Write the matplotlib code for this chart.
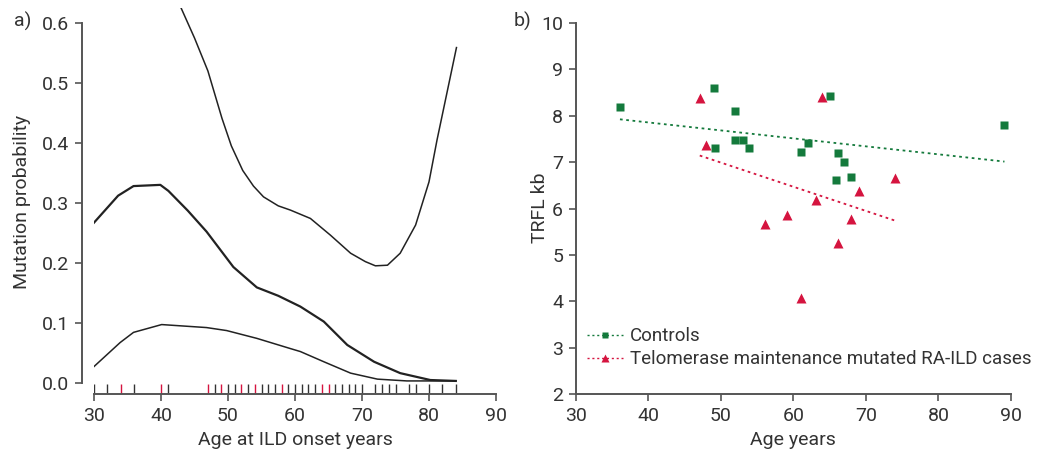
import numpy as np
import matplotlib
matplotlib.use("Agg")
import matplotlib.pyplot as plt

plt.rcParams['font.family'] = ['Roboto', 'DejaVu Sans']
plt.rcParams['font.size'] = 14
plt.rcParams['text.color'] = '#333333'
plt.rcParams['axes.labelcolor'] = '#333333'
plt.rcParams['xtick.color'] = '#555555'
plt.rcParams['ytick.color'] = '#555555'
plt.rcParams['xtick.labelcolor'] = '#333333'
plt.rcParams['ytick.labelcolor'] = '#333333'

green = '#147a3c'
red = '#d5143f'
dark = '#222222'

# panel a) curves (mutation probability vs age at onset)
mid_age = [30, 33.6, 35.9, 39.9, 41.1, 44, 46.8, 50.8, 54.3, 57.5, 60.8, 64.3, 67.8, 71.8, 75.7, 80.2, 84]
mid_prob = [0.267, 0.312, 0.328, 0.330, 0.320, 0.287, 0.252, 0.193, 0.159, 0.145, 0.127, 0.102, 0.063, 0.035, 0.016, 0.0045, 0.003]

low_age = [30, 33.9, 35.9, 40.1, 46.8, 49.8, 54.3, 59.3, 60.8, 64.3, 68.3, 72.3, 76.7, 84]
low_prob = [0.027, 0.067, 0.084, 0.097, 0.092, 0.087, 0.074, 0.057, 0.052, 0.035, 0.016, 0.006, 0.003, 0.003]

up_age = [43.0, 45, 47.0, 49.1, 50.5, 52.2, 53.8, 55.3, 57.5, 59.3, 62.3, 65.3, 68.3, 70.5, 72.0, 73.8, 75.7, 78.0, 80.0, 81.2, 84.1]
up_prob = [0.625, 0.575, 0.52, 0.441, 0.395, 0.354, 0.328, 0.310, 0.295, 0.288, 0.274, 0.246, 0.216, 0.202, 0.195, 0.196, 0.216, 0.263, 0.335, 0.405, 0.559]

# rug of observed onset ages
rug_black = [30, 32, 36, 41, 48, 50, 51, 53, 55, 56, 57, 59, 60, 61, 62, 63, 66, 67, 68, 69, 70,
             72, 73, 74, 75, 77, 78, 80, 82, 84]
rug_red = [34, 40, 47, 49, 52, 54, 58, 64, 65]

# panel b) TRFL vs age
ctrl_age = [36.1, 49.1, 52.0, 65.05, 89.1, 52.0, 53.1, 49.2, 53.9, 62.0, 61.0, 66.1, 67.0, 68.0, 65.9]
ctrl_trfl = [8.19, 8.59, 8.10, 8.42, 7.79, 7.48, 7.48, 7.30, 7.30, 7.40, 7.22, 7.19, 7.00, 6.68, 6.61]

case_age = [47.1, 63.9, 48.0, 74.0, 69.0, 63.1, 59.1, 56.05, 68.0, 66.1, 61.0]
case_trfl = [8.37, 8.39, 7.36, 6.66, 6.38, 6.18, 5.86, 5.67, 5.78, 5.26, 4.08]

ctrl_fit_age = [36.1, 89.1]
ctrl_fit_trfl = [7.92, 7.01]
case_fit_age = [47.1, 74.0]
case_fit_trfl = [7.14, 5.74]

W, H = 1038, 455
fig = plt.figure(figsize=(W / 100, H / 100), dpi=100)

def fx(px):
    return px / W

def fy(py):
    return 1 - py / H

# ---- panel a
ax1 = fig.add_axes([fx(94), fy(394.3), fx(496) - fx(94), fy(8) - fy(394.3)])
ybot = -0.0193
ax1.plot(up_age, up_prob, color=dark, lw=1.1)
ax1.plot(mid_age, mid_prob, color=dark, lw=1.6)
ax1.plot(low_age, low_prob, color=dark, lw=1.1)
ax1.vlines(rug_black, ybot, -0.0027, color='#333333', lw=1.0)
ax1.vlines(rug_red, ybot, -0.0027, color=red, lw=1.0)
ax1.set_xlim(30, 90)
ax1.set_ylim(ybot, 0.625)
ax1.set_xticks(np.arange(30, 91, 10))
ax1.set_yticks(np.arange(0, 0.61, 0.1))
ax1.set_yticklabels([f"{v:.1f}" for v in np.arange(0, 0.61, 0.1)])
ax1.spines['top'].set_visible(False)
ax1.spines['right'].set_visible(False)
ax1.spines['left'].set_bounds(0, 0.6)
ax1.spines['left'].set_position(('outward', 8.9))
ax1.spines['bottom'].set_bounds(30, 90)
for s in ['left', 'bottom']:
    ax1.spines[s].set_color('#555555')
    ax1.spines[s].set_linewidth(1.4)
ax1.tick_params(direction='out', length=5, width=1.2, pad=4)

fig.text(fx(22), fy(202), "Mutation probability", rotation=90, ha='center', va='center', fontsize=14)
fig.text(fx(295), fy(440), "Age at ILD onset years", ha='center', va='center', fontsize=14)
fig.text(fx(14), fy(21), "a)", ha='left', va='center', fontsize=14)

# ---- panel b
ax2 = fig.add_axes([fx(575.7), fy(394.3), fx(1011) - fx(575.7), fy(22.7) - fy(394.3)])
ax2.plot(ctrl_fit_age, ctrl_fit_trfl, color=green, lw=1.3, ls=(0, (1.5, 2)))
ax2.plot(case_fit_age, case_fit_trfl, color=red, lw=1.3, ls=(0, (1.5, 2)))
ax2.plot(ctrl_age, ctrl_trfl, 's', color=green, ms=5.5, mec='none')
ax2.plot(case_age, case_trfl, '^', color=red, ms=6.5, mec='none')
ax2.set_xlim(30, 90)
ax2.set_ylim(2, 10)
ax2.set_xticks(np.arange(30, 91, 10))
ax2.set_yticks(np.arange(2, 11, 1))
ax2.spines['top'].set_visible(False)
ax2.spines['right'].set_visible(False)
for s in ['left', 'bottom']:
    ax2.spines[s].set_color('#555555')
    ax2.spines[s].set_linewidth(1.4)
ax2.tick_params(direction='out', length=5, width=1.2, pad=4)

h1, = ax2.plot([], [], 's', ls=(0, (1.5, 2)), color=green, ms=5, mec='none', lw=1.0)
h2, = ax2.plot([], [], '^', ls=(0, (1.5, 2)), color=red, ms=5.5, mec='none', lw=1.0)
ax2.legend([h1, h2], ["Controls", "Telomerase maintenance mutated RA-ILD cases"],
           loc='lower left', bbox_to_anchor=(0.0, 0.04), frameon=False, fontsize=13.5,
           handlelength=1.9, handletextpad=0.4, labelspacing=0.25, borderaxespad=0.2)

fig.text(fx(540), fy(208), "TRFL kb", rotation=90, ha='center', va='center', fontsize=14)
fig.text(fx(793), fy(440), "Age years", ha='center', va='center', fontsize=14)
fig.text(fx(514), fy(21), "b)", ha='left', va='center', fontsize=14)

fig.savefig("out.png", dpi=100)
